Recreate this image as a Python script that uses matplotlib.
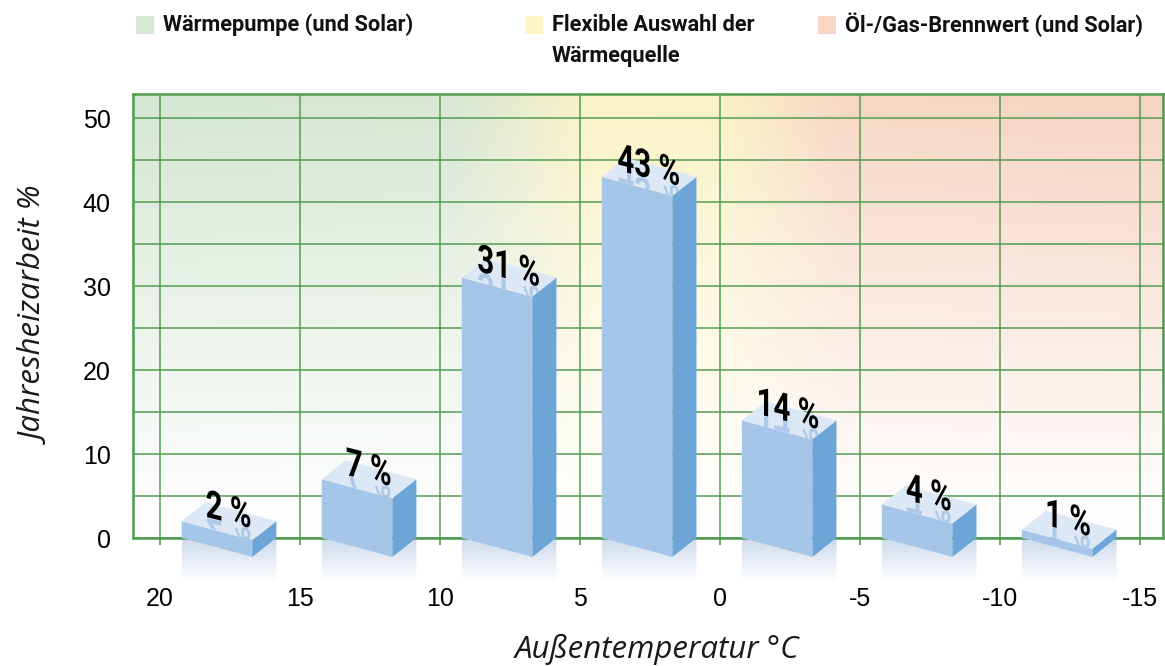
import numpy as np
import matplotlib
matplotlib.use("Agg")
import matplotlib.pyplot as plt
from matplotlib.patches import Polygon, Rectangle, PathPatch
from matplotlib.textpath import TextPath
from matplotlib.font_manager import FontProperties
from matplotlib.transforms import Affine2D, ScaledTranslation

# data
temp_centers = [17.5, 12.5, 7.5, 2.5, -2.5, -7.5, -12.5]
shares = [2, 7, 31, 43, 14, 4, 1]
x_ticks = [20, 15, 10, 5, 0, -5, -10, -15]
y_ticks = [0, 10, 20, 30, 40, 50]
legend_labels = ["Wärmepumpe (und Solar)", "Flexible Auswahl der\nWärmequelle",
                 "Öl-/Gas-Brennwert (und Solar)"]
legend_colors = ["#d6e8d5", "#fdf5c6", "#f8d5c6"]

BOLD = ["Roboto", "DejaVu Sans"]
ITAL = ["Open Sans", "DejaVu Sans"]
plt.rcParams["font.family"] = ["Liberation Sans", "DejaVu Sans"]

grid_green = "#4f9c4f"
front_col = "#a5c6e8"
side_col = "#6ea5d7"
top_col = "#dce8f6"
DPI = 100

fig = plt.figure(figsize=(11.65, 6.66), dpi=DPI)
ax = fig.add_axes([133 / 1165, 128 / 666, 1030 / 1165, 444 / 666])
xl = (20.96, -15.82)
yl = (0, 52.86)
ax.set_xlim(*xl)
ax.set_ylim(*yl)

# background: green -> yellow -> pink, fading to white at the bottom
xs = np.linspace(xl[0], xl[1], 500)
stops_x = [-16, -4.5, 0.0, 4.5, 9.5, 21]
stops_c = np.array([[246, 211, 194], [247, 215, 196], [251, 242, 198],
                    [251, 243, 199], [216, 231, 212], [213, 230, 211]]) / 255.0
row = np.stack([np.interp(xs, stops_x, stops_c[:, k]) for k in range(3)], axis=-1)
ys = np.linspace(yl[1], yl[0], 200)
t = (ys / yl[1]) ** 1.1
bg = 1 - (1 - row[None, :, :]) * t[:, None, None]
ax.imshow(bg, extent=[xl[0], xl[1], yl[0], yl[1]], aspect="auto", zorder=0,
          interpolation="bilinear")

# grid
ax.set_xticks(x_ticks)
ax.set_xticklabels([str(v) for v in x_ticks])
ax.set_yticks(y_ticks)
ax.set_yticks([5, 15, 25, 35, 45], minor=True)
ax.grid(True, which="both", color=grid_green, linewidth=1.2, alpha=0.9)
ax.set_axisbelow(True)
ax.tick_params(axis="x", which="major", direction="out", length=5, width=1.2,
               color=grid_green, pad=30, labelsize=18)
ax.tick_params(axis="y", which="both", length=0, pad=16, labelsize=18)
for s in ax.spines.values():
    s.set_color(grid_green)
    s.set_linewidth(1.8)

label_font = FontProperties(family=BOLD, weight="bold")


def sheared_label(text, x, y, size, color, flip=False, alpha=1.0, z=5, clip=None):
    # glyphs stay upright while the baseline slopes down, like lying on the bar top
    tp = TextPath((0, 0), text, size=size, prop=label_font)
    bb = tp.get_extents()
    tr = Affine2D().translate(-(bb.x0 + bb.x1) / 2, -(bb.y0 + bb.y1) / 2)
    tr = tr.scale(0.92, -1.22 if flip else 1.22)
    tr = tr.skew_deg(0, -14).scale(DPI / 72.0)
    tr = tr + ScaledTranslation(x, y, ax.transData)
    p = PathPatch(tp, transform=tr, facecolor=color, edgecolor="none",
                  alpha=alpha, zorder=z)
    ax.add_patch(p)
    if clip is not None:
        p.set_clip_box(fig.bbox)
        p.set_clip_path(clip)
    else:
        p.set_clip_on(False)
    return p


# 3d bars
side_w = 0.86
front_w = 2.52
drop = 2.26
refl = 5.2
for c, h in zip(temp_centers, shares):
    L = c + 1.72
    FR = L - front_w
    R = FR - side_w
    # reflection under bar
    clip = Polygon([(L, 0), (FR, -drop), (R, 0), (R, -refl), (L, -refl)],
                   closed=True, transform=ax.transData)
    grad = np.zeros((50, 2, 4))
    grad[:, :, :3] = np.array([196, 212, 232]) / 255.0
    grad[:, :, 3] = np.linspace(0.85, 0.0, 50)[:, None]
    im = ax.imshow(grad, extent=[L, R, -refl, 0], aspect="auto", zorder=2,
                   interpolation="bilinear")
    im.set_clip_box(fig.bbox)
    im.set_clip_path(clip)
    ax.set_xlim(*xl)
    ax.set_ylim(*yl)

    front = Polygon([(L, 0), (L, h), (FR, h - drop), (FR, -drop)], closed=True,
                    facecolor=front_col, edgecolor="none", zorder=3, clip_on=False)
    side = Polygon([(FR, -drop), (FR, h - drop), (R, h), (R, 0)], closed=True,
                   facecolor=side_col, edgecolor="none", zorder=3, clip_on=False)
    topf = Polygon([(L, h), (FR, h - drop), (R, h), (L - side_w, h + drop)],
                   closed=True, facecolor=top_col, edgecolor="none", zorder=3,
                   clip_on=False)
    for p in (front, side, topf):
        ax.add_patch(p)

    lab = f"{h} %"
    sheared_label(lab, c + 0.05, h - 1.9, 23, "#9fbfe3", flip=True, alpha=0.75,
                  z=4, clip=topf)
    sheared_label(lab, c + 0.05, h + 1.5, 23, "black")

ax.set_xlabel("Außentemperatur °C", fontsize=22.5, style="italic", family=ITAL,
              color="#1a1a1a")
ax.xaxis.set_label_coords(0.509, -0.215)
ax.set_ylabel("Jahresheizarbeit %", fontsize=22.5, style="italic", family=ITAL,
              labelpad=22, color="#1a1a1a")

# legend on top
leg_x = [136, 525, 818]
for px, lab, col in zip(leg_x, legend_labels, legend_colors):
    fig.patches.append(Rectangle((px / 1165, 1 - 34 / 666), 18 / 1165, 18 / 666,
                                 transform=fig.transFigure, facecolor=col,
                                 edgecolor="none"))
    for i, line in enumerate(lab.split("\n")):
        fig.text((px + 27) / 1165, 1 - (25 + 31 * i) / 666, line, ha="left",
                 va="center", fontsize=15.7, fontweight="bold", family=BOLD,
                 color="#111111")

fig.savefig("out.png", dpi=DPI)
